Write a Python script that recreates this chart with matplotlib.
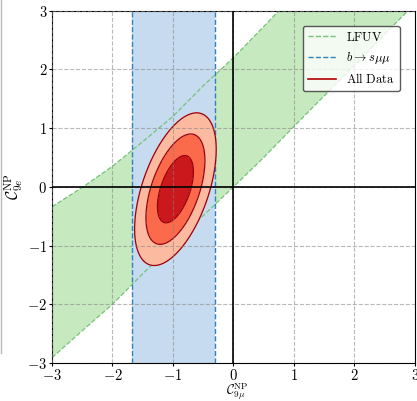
import matplotlib
matplotlib.use("Agg")
import matplotlib.pyplot as plt
import numpy as np
from matplotlib.lines import Line2D

plt.rcParams["mathtext.fontset"] = "cm"
plt.rcParams["font.family"] = "serif"
plt.rcParams["font.serif"] = ["DejaVu Serif"]

# LFUV band edges (C9e vs C9mu)
lfuv_x = [-3.0, -2.5, -2.0, -1.5, -1.0, -0.5, 0.0, 0.5, 1.0, 1.5, 2.0, 2.5, 3.0]
lfuv_upper = [-0.34, -0.01, 0.35, 0.77, 1.20, 1.72, 2.20, 2.73, 3.27, 3.80, 4.35, 4.90, 5.45]
lfuv_lower = [-2.91, -2.45, -2.00, -1.48, -0.98, -0.49, 0.00, 0.50, 1.03, 1.55, 2.07, 2.60, 3.12]

# b -> s mu mu band on C9mu
bsmumu_range = [-1.68, -0.30]

# all data fit: gaussian approximation
best_fit = [-0.96, -0.04]
sigma_fit = [0.196, 0.378]
rho_fit = 0.52
dchi2_levels = [2.30, 6.18, 11.83]

ticks = [-3, -2, -1, 0, 1, 2, 3]
tick_labels = ["$-3$", "$-2$", "$-1$", "$0$", "$1$", "$2$", "$3$"]

fig = plt.figure(figsize=(4.17, 4.01), dpi=100)
ax = fig.add_axes([0.1247, 0.0948, 0.8705, 0.8786])

ax.fill_between(lfuv_x, lfuv_lower, lfuv_upper, color="#c7e9c0", lw=0, zorder=1)
ax.axvspan(bsmumu_range[0], bsmumu_range[1], color="#c6dbef", lw=0, zorder=1.1)
ax.plot(lfuv_x, lfuv_upper, ls="--", color="#74c476", lw=0.9, zorder=1.5)
ax.plot(lfuv_x, lfuv_lower, ls="--", color="#74c476", lw=0.9, zorder=1.5)
for xv in bsmumu_range:
    ax.axvline(xv, ls="--", color="#3182bd", lw=1.0, zorder=1.6)

gx, gy = np.meshgrid(np.linspace(-3, 3, 400), np.linspace(-3, 3, 400))
dx = (gx - best_fit[0]) / sigma_fit[0]
dy = (gy - best_fit[1]) / sigma_fit[1]
chi2 = (dx**2 - 2 * rho_fit * dx * dy + dy**2) / (1 - rho_fit**2)
ax.contourf(gx, gy, chi2, levels=[0] + dchi2_levels,
            colors=["#cb181d", "#fb6a4a", "#fcbba1"], zorder=2)
ax.contour(gx, gy, chi2, levels=dchi2_levels, colors="#99000d", linewidths=0.9, zorder=2.1)

ax.set_axisbelow(False)
ax.grid(True, ls="--", color="gray", alpha=0.55, lw=0.8)
ax.axhline(0, color="black", lw=1.2, zorder=3)
ax.axvline(0, color="black", lw=1.2, zorder=3)

ax.set_xlim(-3, 3)
ax.set_ylim(-3, 3)
ax.tick_params(length=2.5, pad=1)
ax.set_xticks(ticks, tick_labels, fontsize=10.5)
ax.set_yticks(ticks, tick_labels, fontsize=10.5)
ax.set_xlabel(r"$\mathcal{C}_{9\mu}^{\rm NP}$", fontsize=9.5)
ax.set_ylabel(r"$\mathcal{C}_{9e}^{\rm NP}$", fontsize=11.5)
ax.xaxis.set_label_coords(0.51, -0.051)
ax.yaxis.set_label_coords(-0.075, 0.5)

handles = [
    Line2D([], [], ls="--", color="#74c476", lw=1.0),
    Line2D([], [], ls="--", color="#3182bd", lw=1.0),
    Line2D([], [], ls="-", color="#b30000", lw=1.2),
]
labels = [r"$\mathrm{LFUV}$", r"$b\to s\mu\mu$", r"$\mathrm{All\ Data}$"]
leg = ax.legend(handles, labels, loc="upper right", fontsize=9, framealpha=0.8,
                edgecolor="#333333", fancybox=True, handlelength=2.3,
                borderaxespad=1.2)
leg.set_zorder(5)

fig.add_artist(Line2D([0.003, 0.003], [1.0, 0.12], color="#bbbbbb", lw=1.0))

fig.savefig("out.png", dpi=100)
